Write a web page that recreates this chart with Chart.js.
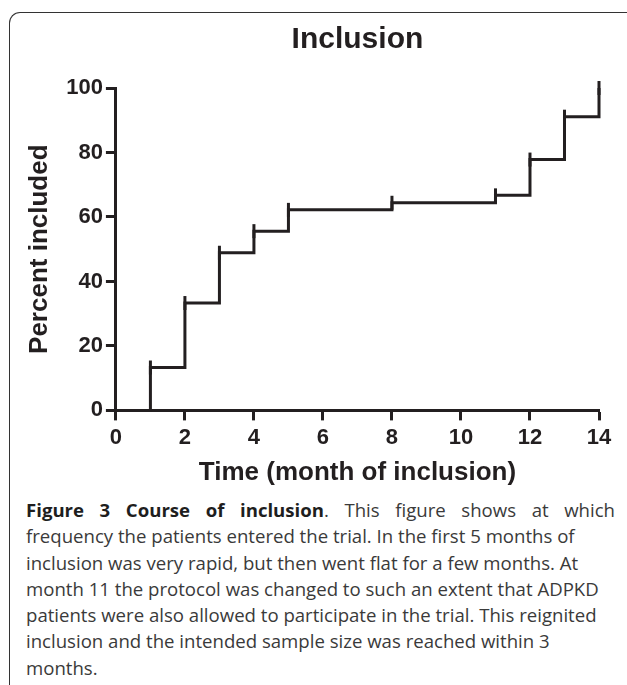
<!DOCTYPE html>
<html>
<head>
<meta charset="utf-8">
<script src="https://cdn.jsdelivr.net/npm/chart.js@4"></script>
<style>
  html, body { margin: 0; padding: 0; background: #fff; }
  body { width: 627px; height: 685px; position: relative; overflow: hidden; }
  #frame {
    position: absolute; left: 9px; top: 12px; width: 640px; height: 720px;
    border-top: 1.3px solid #333; border-left: 1.3px solid #333;
    border-top-left-radius: 11px;
  }
  #wrap { position: absolute; left: 0; top: 0; width: 627px; height: 490px; }
  #caption {
    position: absolute; left: 26px; top: 497px; width: 589px;
    font-family: "Open Sans", "Noto Sans", sans-serif; font-size: 18.6px;
    line-height: 26.3px; color: #3a3a3a; white-space: nowrap;
  }
  #caption .first { text-align: justify; text-align-last: justify; }
  #caption b { color: #1e1e1e; }
</style>
</head>
<body>
<div id="frame"></div>
<div id="wrap"><canvas id="chart"></canvas></div>
<div id="caption">
  <div class="first"><b>Figure 3 Course of inclusion</b>. This figure shows at which</div>
  frequency the patients entered the trial. In the first 5 months of<br>
  inclusion was very rapid, but then went flat for a few months. At<br>
  month 11 the protocol was changed to such an extent that ADPKD<br>
  patients were also allowed to participate in the trial. This reignited<br>
  inclusion and the intended sample size was reached within 3<br>
  months.
</div>
<script>
// step data (month of inclusion vs cumulative percent)
const months = [0, 1, 2, 3, 4, 5, 8, 11, 12, 13, 14];
const percentIncluded = [0, 13.3, 33.3, 48.9, 55.6, 62.2, 64.4, 66.7, 77.8, 91.1, 100];

const xTickValues = [0, 2, 4, 6, 8, 10, 12, 14];
const yTickValues = [0, 20, 40, 60, 80, 100];

const INK = "#231f20";
const FONT = '"Liberation Sans", Arial, Helvetica, sans-serif';

const ctx = document.getElementById("chart").getContext("2d");

new Chart(ctx, {
  type: "line",
  data: {
    labels: months,
    datasets: [{
      label: "Inclusion",
      data: months.map((m, i) => ({ x: m, y: percentIncluded[i] })),
      stepped: "before",
      borderColor: INK,
      borderWidth: 3,
      fill: false,
      clip: false,
      // vertical tick mark at each step, like the censor marks in the figure
      pointStyle: "line",
      rotation: 90,
      pointRadius: c => c.dataIndex === 0 ? 0 : 7,
      pointHoverRadius: c => c.dataIndex === 0 ? 0 : 7,
      pointBorderColor: INK,
      pointBorderWidth: 3
    }]
  },
  options: {
    responsive: true,
    maintainAspectRatio: false,
    animation: false,
    layout: { padding: { left: 10, right: 28, top: 0, bottom: 2 } },
    plugins: {
      legend: { display: false },
      tooltip: { enabled: false },
      title: {
        display: true,
        fullSize: false,
        text: "Inclusion",
        color: INK,
        font: { family: FONT, size: 30, weight: "bold" },
        padding: { top: 22, bottom: 30 }
      }
    },
    scales: {
      x: {
        type: "linear",
        min: 0,
        max: 14,
        afterBuildTicks: s => { s.ticks = xTickValues.map(v => ({ value: v })); },
        grid: { drawOnChartArea: false, drawTicks: true, tickLength: 10, tickWidth: 3, tickColor: INK },
        border: { display: true, width: 3, color: INK },
        ticks: { color: INK, padding: 4, maxRotation: 0, font: { family: FONT, size: 22, weight: "bold" } },
        title: {
          display: true,
          text: "Time (month of inclusion)",
          color: INK,
          font: { family: FONT, size: 26, weight: "bold" },
          padding: { top: 2, bottom: 0 }
        }
      },
      y: {
        min: 0,
        max: 100,
        afterBuildTicks: s => { s.ticks = yTickValues.map(v => ({ value: v })); },
        grid: { drawOnChartArea: false, drawTicks: true, tickLength: 10, tickWidth: 3, tickColor: INK },
        border: { display: true, width: 3, color: INK },
        ticks: { color: INK, padding: 3, font: { family: FONT, size: 22, weight: "bold" } },
        title: {
          display: true,
          text: "Percent included",
          color: INK,
          font: { family: FONT, size: 26, weight: "bold" },
          padding: { top: 14, bottom: 8 }
        }
      }
    }
  }
});
</script>
</body>
</html>
